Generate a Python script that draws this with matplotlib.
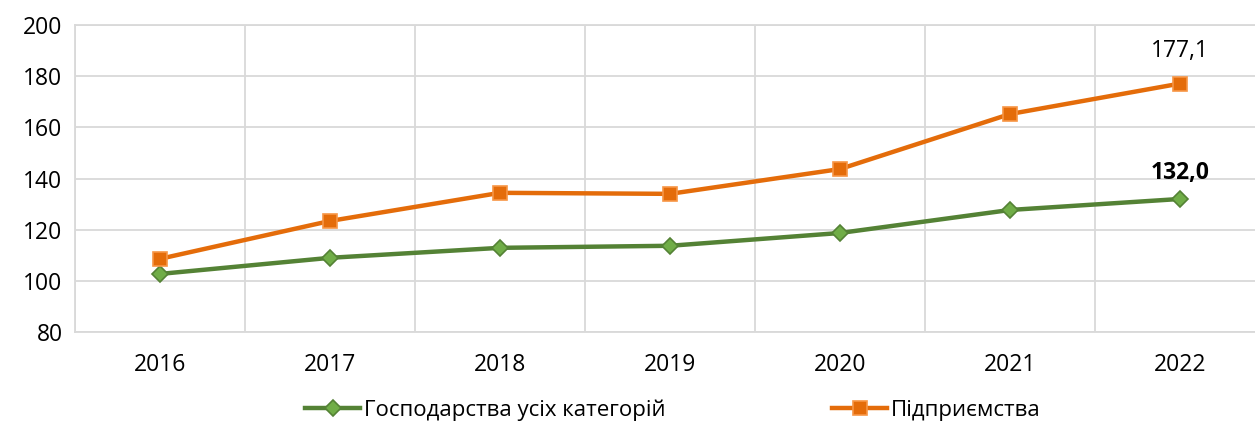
import matplotlib.pyplot as plt
from matplotlib import font_manager

years = ["2016", "2017", "2018", "2019", "2020", "2021", "2022"]
households = [102.7, 109.0, 112.9, 113.7, 118.7, 127.7, 132.0]
enterprises = [108.6, 123.4, 134.4, 134.0, 143.7, 165.2, 177.1]
labels = ["Господарства усіх категорій", "Підприємства"]

names = {f.name for f in font_manager.fontManager.ttflist}
base_font = "Open Sans" if "Open Sans" in names else "DejaVu Sans"
plt.rcParams["font.family"] = [base_font, "DejaVu Sans"]

fig = plt.figure(figsize=(12.55, 4.23), dpi=100)
# plot area runs slightly past the right edge, as in the original
ax = fig.add_axes([75 / 1255, 1 - 332 / 423, 1190 / 1255, 307 / 423])

x = list(range(len(years)))
l1, = ax.plot(x, households, color="#548235", lw=3.2, marker="D", ms=8,
              mfc="#70AD47", mec="#548235", mew=1.2, zorder=3)
l2, = ax.plot(x, enterprises, color="#E46C0A", lw=3.2, marker="s", ms=10,
              mfc="#E46C0A", mec="#F79646", mew=1.2, zorder=3)

ax.annotate("177,1", (x[-1], enterprises[-1]), xytext=(0, 15),
            textcoords="offset points", ha="center", va="bottom", fontsize=16.5)
ax.annotate("132,0", (x[-1], households[-1]), xytext=(0, 10),
            textcoords="offset points", ha="center", va="bottom",
            fontsize=16.5, fontweight="bold")

ax.set_xlim(-0.5, len(years) - 0.5)
ax.set_ylim(80, 200)
ax.set_yticks(range(80, 201, 20))
ax.set_xticks(x)
ax.set_xticklabels(years)
ax.set_xticks([i + 0.5 for i in range(-1, len(years))], minor=True)
ax.tick_params(axis="both", which="both", length=0, labelsize=16.5)
ax.tick_params(axis="x", pad=15)
ax.tick_params(axis="y", pad=9)
ax.grid(True, axis="y", which="major", color="#D9D9D9", lw=1.3)
ax.grid(True, axis="x", which="minor", color="#D9D9D9", lw=1.3)
for s in ax.spines.values():
    s.set_color("#D9D9D9")
    s.set_linewidth(1.3)
ax.set_axisbelow(True)

fig.legend([l1, l2], labels, loc="center", bbox_to_anchor=(0.536, 1 - 410 / 423),
           ncol=2, frameon=False, columnspacing=7.5, handlelength=2.5,
           handletextpad=0.15, prop={"size": 16})

fig.savefig("out.png", dpi=100)
